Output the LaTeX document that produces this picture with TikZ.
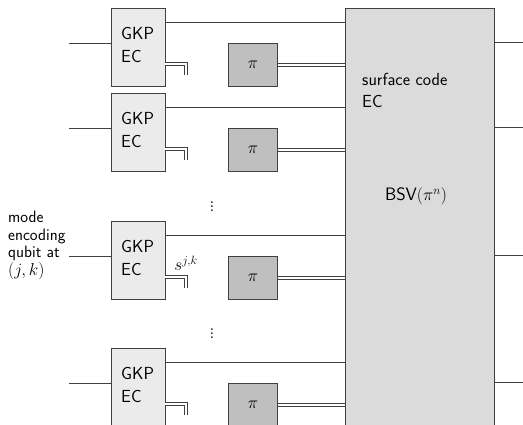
\documentclass[tikz,border=0pt]{standalone}
\begin{document}
\begin{tikzpicture}[x=1pt,y=-1pt,
  ln/.style={draw=black!75,line width=0.9pt},
  dbl/.style={draw=black!75,line width=0.9pt,double=white,double distance=2.8pt},
  gkp/.style={draw=black!75,fill=black!8,line width=0.9pt,minimum width=54pt,minimum height=78pt,anchor=north west,inner sep=0pt},
  pibox/.style={draw=black!75,fill=black!25,line width=0.9pt,minimum width=49pt,minimum height=43pt,anchor=north west,inner sep=0pt,font=\fontsize{16}{18}\selectfont},
  gtxt/.style={anchor=north west,inner sep=0pt,align=left,font=\sffamily\fontsize{17.5}{23}\selectfont},
  dots/.style={inner sep=0pt,font=\fontsize{21}{24}\selectfont},
]
\useasboundingbox (0,0) rectangle (523,425);
\node[draw=black!75,fill=black!14,line width=0.9pt,minimum width=149pt,minimum height=430pt,anchor=north west,inner sep=0pt] (S) at (345,8) {};
\node[anchor=north west,inner sep=0pt,align=left,font=\sffamily\fontsize{17.5}{22}\selectfont] (st) at (362,73) {surface code\\EC};
\node[inner sep=0pt,font=\sffamily\fontsize{18}{20}\selectfont] (bsv) at (416,196) {BSV$(\pi^n)$};
\foreach \i/\t in {1/8,2/93,3/221,4/348}{
  \node[gkp] (g\i) at (111,\t) {};
  \node[gtxt] (gt\i) at (121,\t+19) {GKP\\EC};
  \node[pibox] (p\i) at (228,\t+35) {$\pi$};
  \coordinate (in\i) at (69,\t+35);
  \draw[ln] (in\i) -- (in\i -| g\i.west);
  \coordinate (o\i) at (165,\t+14);
  \draw[ln] (o\i) -- (o\i -| S.west);
  \coordinate (h\i) at (165,\t+56);
  \draw[dbl] (h\i) -| ++(21,11);
  \draw[dbl] (p\i.east) -- (p\i.east -| S.west);
  \coordinate (r\i) at (523,\t+34);
  \draw[ln] (r\i -| S.east) -- (r\i);
}
\node[anchor=north west,inner sep=0pt,align=left,font=\sffamily\fontsize{16.5}{17.5}\selectfont] (lbl) at (8,211) {mode\\encoding\\qubit at\\$(j,k)$};
\node[inner sep=0pt,font=\fontsize{18}{20}\selectfont] (s3) at (186,263) {$s^{j,k}$};
\node[dots] (d1) at (212,204) {$\vdots$};
\node[dots] (d2) at (212,331) {$\vdots$};
\end{tikzpicture}
\end{document}
